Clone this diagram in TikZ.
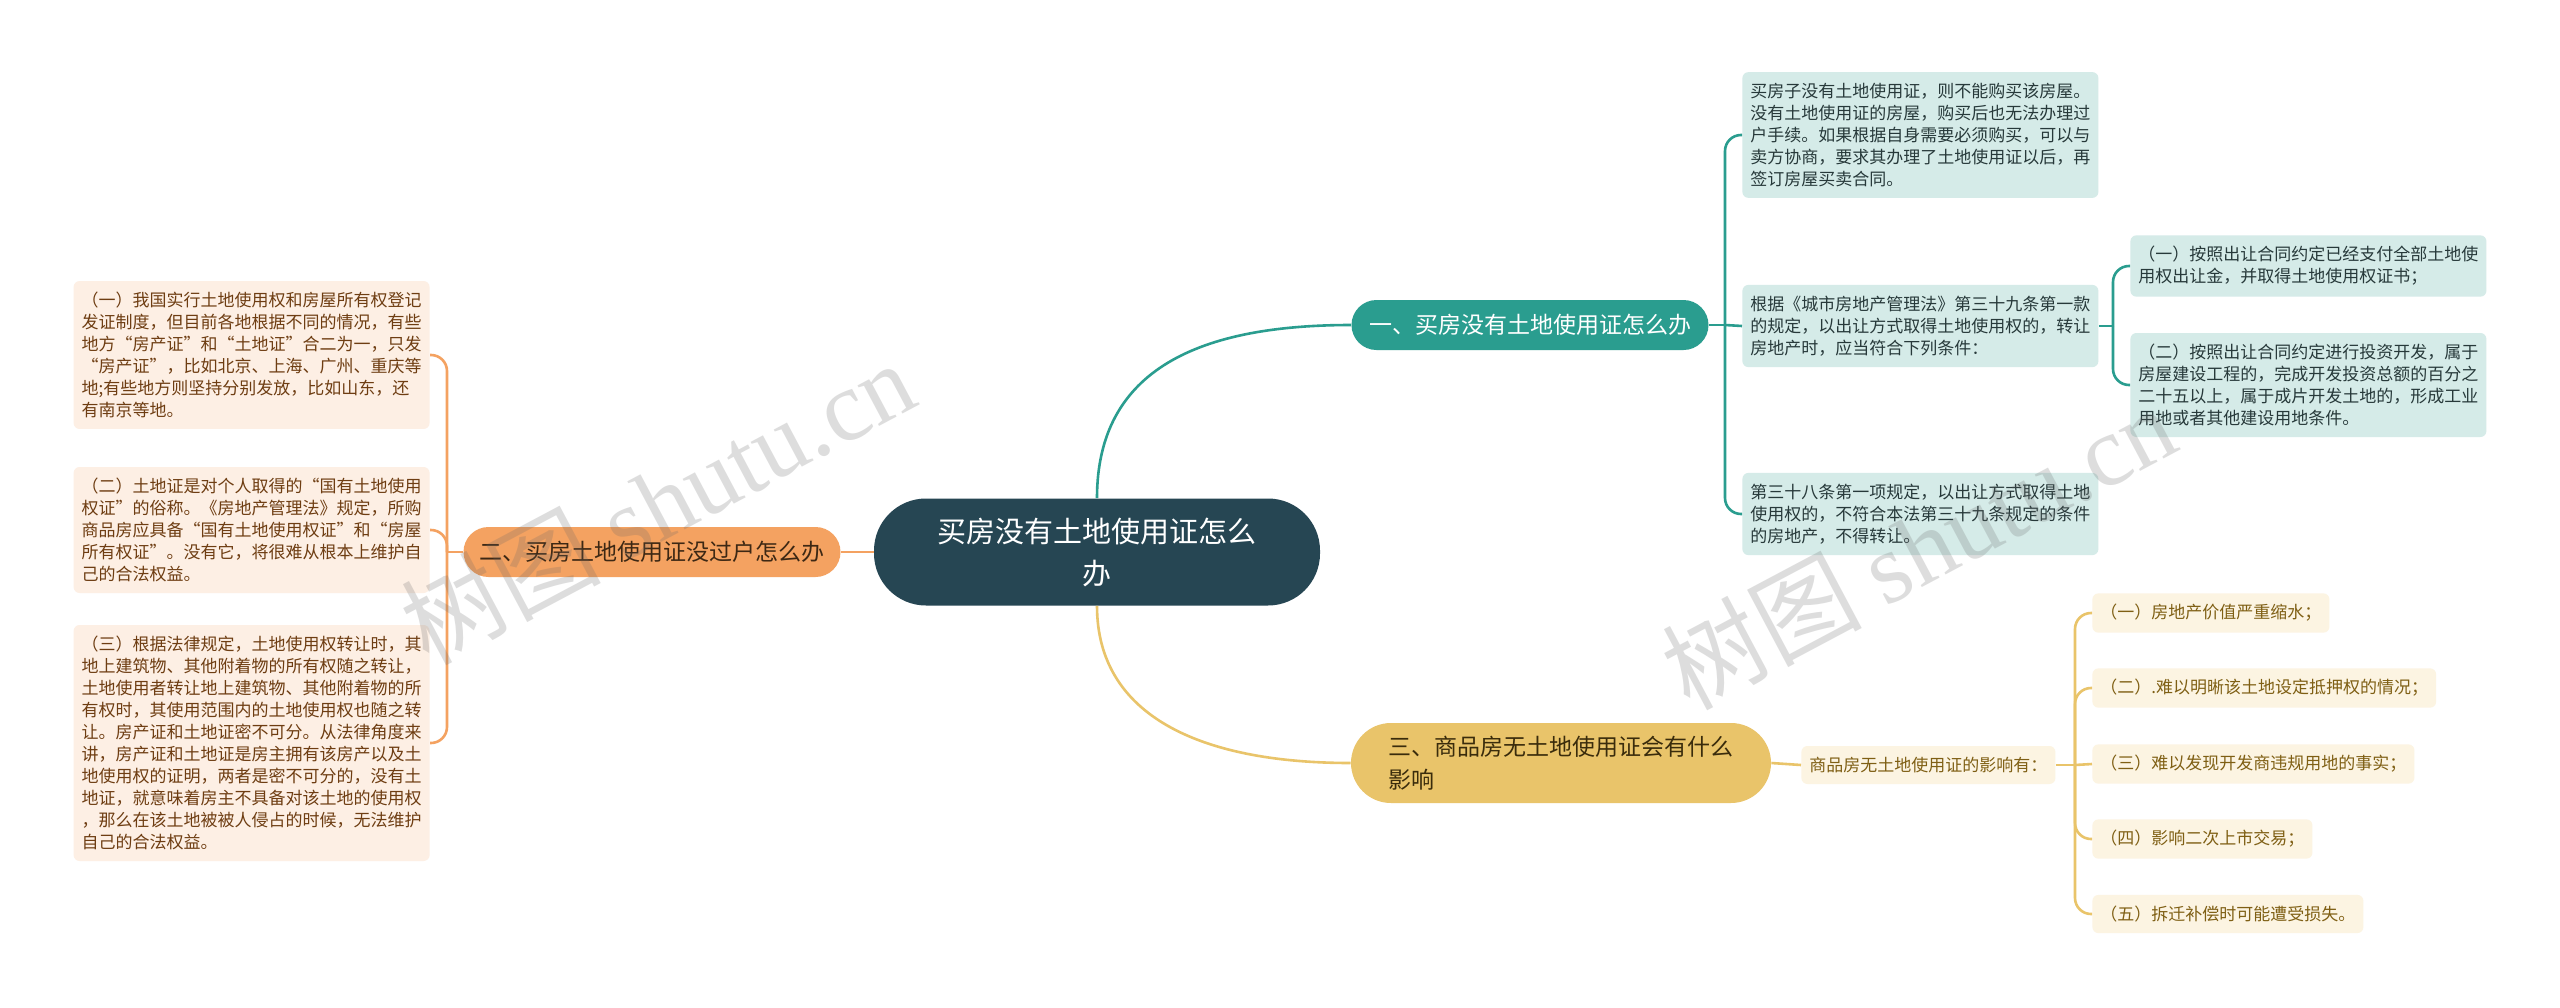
\documentclass[tikz,border=0pt]{standalone}
\usepackage{fontspec}
\setmainfont{Noto Sans CJK SC}
\newfontfamily\wmlatin{Liberation Serif}
\definecolor{cdark}{HTML}{264653}
\definecolor{cteal}{HTML}{2A9D8F}
\definecolor{cyel}{HTML}{E9C46A}
\definecolor{corg}{HTML}{F4A261}
\definecolor{tealL}{HTML}{D5EBE8}
\definecolor{orgL}{HTML}{FDEFE4}
\definecolor{yelL}{HTML}{FCF4E2}
\definecolor{tealT}{HTML}{27393A}
\definecolor{orgT}{HTML}{6E3D12}
\definecolor{yelT}{HTML}{7F5F14}
\definecolor{b2T}{HTML}{3D2814}
\definecolor{b3T}{HTML}{3A2C0C}
\tikzset{
  leafbox/.style={rounded corners=3pt, inner xsep=4pt, inner ysep=5.5pt,
    font=\fontsize{8.5pt}{11pt}\selectfont, align=left},
  tleaf/.style={leafbox, fill=tealL, text=tealT, minimum width=178pt},
  oleaf/.style={leafbox, fill=orgL, text=orgT, minimum width=178pt},
  yleaf/.style={leafbox, fill=yelL, text=yelT, minimum height=19pt, anchor=west},
  branchbox/.style={rounded corners=12.5pt, minimum height=25pt,
    font=\fontsize{11.5pt}{16.5pt}\selectfont},
  tcon/.style={draw=cteal, line width=1.3pt, rounded corners=8pt},
  ocon/.style={draw=corg, line width=1.3pt, rounded corners=8pt},
  ycon/.style={draw=cyel, line width=1.3pt, rounded corners=8pt},
  wmark/.style={rotate=28, text=black!60, opacity=0.22,
    font=\fontsize{50pt}{50pt}\selectfont}
}
\begin{document}
\begin{tikzpicture}[x=0.5pt,y=-0.5pt]
\fill[white] (0,0) rectangle (2560,1007);
\useasboundingbox (0,0) rectangle (2560,1007);

% central
\node[fill=cdark, text=white, rounded corners=26pt, minimum width=223pt,
  minimum height=53.5pt, align=center,
  font=\fontsize{14.5pt}{21pt}\selectfont] (c) at (1097,552)
  {买房没有土地使用证怎么\\办};

% branches
\node[branchbox, fill=cteal, text=white, minimum width=178.5pt] (b1) at (1530,325)
  {一、买房没有土地使用证怎么办};
\node[branchbox, fill=corg, text=b2T, minimum width=188.5pt] (b2) at (652,552)
  {二、买房土地使用证没过户怎么办};
\node[branchbox, fill=cyel, text=b3T, minimum width=210pt, minimum height=40pt,
  rounded corners=20pt, align=left] (b3) at (1561,763)
  {三、商品房无土地使用证会有什么\\影响};

% teal leaves
\node[tleaf, anchor=west] (tA) at (1742,135)
  {买房子没有土地使用证，则不能购买该房屋。\\没有土地使用证的房屋，购买后也无法办理过\\户手续。如果根据自身需要必须购买，可以与\\卖方协商，要求其办理了土地使用证以后，再\\签订房屋买卖合同。};
\node[tleaf, anchor=west] (tB) at (1742,326)
  {根据《城市房地产管理法》第三十九条第一款\\的规定，以出让方式取得土地使用权的，转让\\房地产时，应当符合下列条件：};
\node[tleaf, anchor=west] (tC) at (1742,514)
  {第三十八条第一项规定，以出让方式取得土地\\使用权的，不符合本法第三十九条规定的条件\\的房地产，不得转让。};
\node[tleaf, anchor=west] (tB1) at (2130,266)
  {（一）按照出让合同约定已经支付全部土地使\\用权出让金，并取得土地使用权证书；};
\node[tleaf, anchor=west] (tB2) at (2130,385)
  {（二）按照出让合同约定进行投资开发，属于\\房屋建设工程的，完成开发投资总额的百分之\\二十五以上，属于成片开发土地的，形成工业\\用地或者其他建设用地条件。};

% orange leaves
\node[oleaf, anchor=east] (o1) at (430,355)
  {（一）我国实行土地使用权和房屋所有权登记\\发证制度，但目前各地根据不同的情况，有些\\地方“房产证”和“土地证”合二为一，只发\\“房产证”，比如北京、上海、广州、重庆等\\地;有些地方则坚持分别发放，比如山东，还\\有南京等地。};
\node[oleaf, anchor=east] (o2) at (430,530)
  {（二）土地证是对个人取得的“国有土地使用\\权证”的俗称。《房地产管理法》规定，所购\\商品房应具备“国有土地使用权证”和“房屋\\所有权证”。没有它，将很难从根本上维护自\\己的合法权益。};
\node[oleaf, anchor=east] (o3) at (430,743)
  {（三）根据法律规定，土地使用权转让时，其\\地上建筑物、其他附着物的所有权随之转让，\\土地使用者转让地上建筑物、其他附着物的所\\有权时，其使用范围内的土地使用权也随之转\\让。房产证和土地证密不可分。从法律角度来\\讲，房产证和土地证是房主拥有该房产以及土\\地使用权的证明，两者是密不可分的，没有土\\地证，就意味着房主不具备对该土地的使用权\\，那么在该土地被被人侵占的时候，无法维护\\自己的合法权益。};

% yellow sub and leaves
\node[yleaf] (ys) at (1801,765) {商品房无土地使用证的影响有：};
\node[yleaf] (y1) at (2092,613) {（一）房地产价值严重缩水；};
\node[yleaf] (y2) at (2092,688) {（二）.难以明晰该土地设定抵押权的情况；};
\node[yleaf] (y3) at (2092,764) {（三）难以发现开发商违规用地的事实；};
\node[yleaf] (y4) at (2092,839) {（四）影响二次上市交易；};
\node[yleaf] (y5) at (2092,914) {（五）拆迁补偿时可能遭受损失。};

% trunk coordinates
\coordinate (t1) at (1725,325);
\coordinate (t2) at (2113,326);
\coordinate (t3) at (447,552);
\coordinate (t4) at (2075,765);

% connectors
\draw[cteal, line width=1.3pt] (c.north) .. controls +(0,-130) and +(-150,0) .. (b1.west);
\draw[cyel, line width=1.3pt] (c.south) .. controls +(0,110) and +(-150,0) .. (b3.west);
\draw[corg, line width=1.3pt] (c.west) -- (b2.east);

\draw[tcon] (b1.east) -- (t1);
\draw[tcon] (t1) |- (tA.west);
\draw[tcon] (t1) -- (tB.west);
\draw[tcon] (t1) |- (tC.west);
\draw[tcon] (tB.east) -- (t2);
\draw[tcon] (t2) |- (tB1.west);
\draw[tcon] (t2) |- (tB2.west);

\draw[ocon] (b2.west) -- (t3);
\draw[ocon] (t3) |- (o1.east);
\draw[ocon] (t3) |- (o2.east);
\draw[ocon] (t3) |- (o3.east);

\draw[ycon] (b3.east) -- (ys.west);
\draw[ycon] (ys.east) -- (t4);
\draw[ycon] (t4) |- (y1.west);
\draw[ycon] (t4) |- (y2.west);
\draw[ycon] (t4) -- (y3.west);
\draw[ycon] (t4) |- (y4.west);
\draw[ycon] (t4) |- (y5.west);

% watermarks
\node[wmark] (wm1) at (657,502) {树图 {\wmlatin shutu.cn}};
\node[wmark] (wm2) at (1918,547) {树图 {\wmlatin shutu.cn}};
\end{tikzpicture}
\end{document}
